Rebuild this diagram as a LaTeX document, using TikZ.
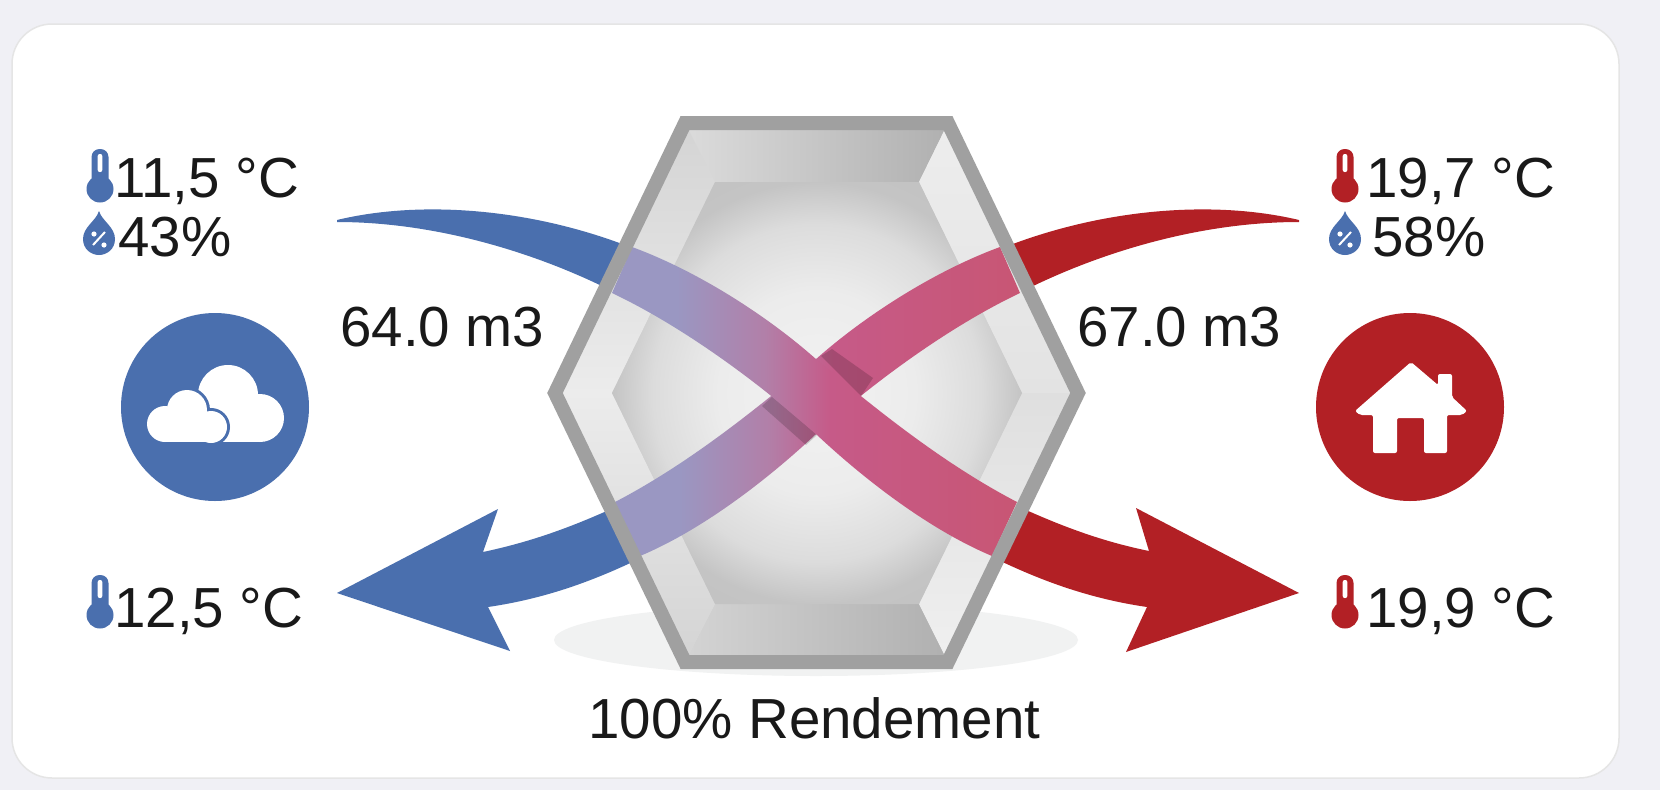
\documentclass[tikz,border=0pt]{standalone}
\usepackage{fontspec}
\setmainfont{Liberation Sans}
\usetikzlibrary{positioning}

\definecolor{coldblue}{HTML}{4A6FAE}
\definecolor{warmred}{HTML}{B22025}
\definecolor{pagegray}{HTML}{F0F0F5}
\definecolor{framegray}{HTML}{A0A0A0}
\definecolor{floorgray}{HTML}{F1F2F2}
\definecolor{bandlila}{HTML}{9A97C2}
\definecolor{bandmid}{HTML}{B27FA8}
\definecolor{bandpink}{HTML}{C65A88}
\definecolor{bandred}{HTML}{C85674}
\definecolor{coreA}{HTML}{F2F2F2}
\definecolor{coreB}{HTML}{ECECEC}
\definecolor{coreC}{HTML}{DCDCDC}
\definecolor{coreD}{HTML}{C4C4C4}
\definecolor{coreE}{HTML}{BABABA}

\pgfdeclarehorizontalshading{bandmix}{100bp}{color(0bp)=(bandlila); color(25bp)=(bandlila); color(33bp)=(bandlila); color(44bp)=(bandmid); color(52bp)=(bandpink); color(75bp)=(bandred); color(100bp)=(bandred)}
\pgfdeclareradialshading{coremix}{\pgfpoint{0bp}{0bp}}{color(0bp)=(coreA); color(12bp)=(coreB); color(20bp)=(coreC); color(25bp)=(coreD); color(50bp)=(coreE)}

\tikzset{
  valuetext/.style={anchor=base west, inner sep=0pt, text=black!90, font=\fontsize{56.5}{60}\selectfont},
  pics/thermo/.style={code={
    \fill[#1] (0,14) circle (13.5);
    \fill[#1, rounded corners=8] (-8.5,18) rectangle (8.5,-26);
    \fill[white, rounded corners=2] (-2.3,-3) rectangle (2.3,-21);
  }},
  pics/wetdrop/.style={code={
    \fill[coldblue] (0,-22) .. controls (3,-12) and (16,-6) .. (16,6) .. controls (16,16) and (8,22) .. (0,22) .. controls (-8,22) and (-16,16) .. (-16,6) .. controls (-16,-6) and (-3,-12) .. (0,-22) -- cycle;
    \draw[white, line width=2] (-6,12) -- (6,-1);
    \fill[white] (-5,1) circle (2.6);
    \fill[white] (5,12) circle (2.6);
  }}
}

\begin{document}
\begin{tikzpicture}[x=1pt,y=-1pt]
\useasboundingbox (0,0) rectangle (1660,790);
\fill[pagegray] (0,0) rectangle (1660,790);
\draw[white!90!black, fill=white, line width=1.5, rounded corners=40] (12,24) rectangle (1619,778);

% Corners of the exchanger
\coordinate (A) at (685,123);
\coordinate (B) at (948,123);
\coordinate (C) at (1078,393);
\coordinate (D) at (948,662);
\coordinate (E) at (685,662);
\coordinate (F) at (555,393);

\coordinate (G) at (715,182);
\coordinate (H) at (919,182);
\coordinate (I) at (1022,393);
\coordinate (J) at (919,604);
\coordinate (K) at (715,604);
\coordinate (L) at (612,393);

% Floor shadow
\fill[floorgray] (816,640) ellipse (262 and 36);

% Outer parts of the air streams
\fill[coldblue] (337,220) .. controls (420,200) and (530,208) .. (630,247) -- (610,290) .. controls (540,255) and (440,222) .. (337,222) -- cycle;
\fill[warmred] (1299,220) .. controls (1215,200) and (1105,208) .. (1005,247) -- (1025,290) .. controls (1095,255) and (1195,222) .. (1299,222) -- cycle;
\fill[coldblue] (337,593) -- (498,509) -- (483,552) .. controls (530,542) and (570,528) .. (620,505) -- (645,556) .. controls (600,578) and (550,598) .. (488,607) -- (510,651) -- cycle;
\fill[warmred] (1299,593) -- (1136,508) -- (1149,551) .. controls (1105,542) and (1065,528) .. (1015,505) -- (990,556) .. controls (1035,578) and (1085,598) .. (1147,607) -- (1126,652) -- cycle;

% Exchanger body
\fill[gray!30] (A) -- (B) -- (C) -- (D) -- (E) -- (F) -- cycle;
\shade[left color=gray!28, right color=gray!62] (A) -- (B) -- (H) -- (G) -- cycle;
\shade[left color=gray!34, right color=gray!62] (E) -- (D) -- (J) -- (K) -- cycle;
\shade[top color=gray!34, bottom color=gray!15] (A) -- (G) -- (L) -- (F) -- cycle;
\shade[top color=gray!15, bottom color=gray!34] (F) -- (L) -- (K) -- (E) -- cycle;
\shade[top color=gray!14, bottom color=gray!22] (B) -- (H) -- (I) -- (C) -- cycle;
\shade[top color=gray!25, bottom color=gray!12] (C) -- (I) -- (J) -- (D) -- cycle;
\shade[shading=coremix] (G) -- (H) -- (I) -- (J) -- (K) -- (L) -- cycle;

% Air streams inside
\shade[shading=bandmix] (1000,247) .. controls (932,272) and (862,318) .. (815,360) .. controls (762,404) and (692,462) .. (615,502) -- (640,556) .. controls (702,530) and (767,480) .. (815,435) .. controls (862,392) and (942,330) .. (1020,293) -- cycle;
\fill[black, opacity=.17] (821,356) -- (832,349) -- (873,378) -- (861,396) -- cycle;
\fill[black, opacity=.17] (772,397) -- (817,435) -- (806,445) -- (762,406) -- cycle;
\shade[shading=bandmix] (632,247) .. controls (700,272) and (770,318) .. (817,360) .. controls (870,404) and (940,462) .. (1017,502) -- (992,556) .. controls (930,530) and (865,480) .. (817,435) .. controls (770,392) and (690,330) .. (612,293) -- cycle;

% Frame
\draw[framegray, line width=14, miter limit=10] (A) -- (B) -- (C) -- (D) -- (E) -- (F) -- cycle;

% Thermometers and drops
\pic at (100,175) {thermo=coldblue};
\pic at (99,233) {wetdrop};
\pic at (100,601) {thermo=coldblue};
\pic at (1345,175) {thermo=warmred};
\pic at (1345,233) {wetdrop};
\pic at (1345,601) {thermo=warmred};

% Values
\node[valuetext] (t1) at (114,197) {11,5 °C};
\node[valuetext] (h1) at (118,256) {43\%};
\node[valuetext] (t2) at (114,627) {12,5 °C};
\node[valuetext] (t3) at (1366,197) {19,7 °C};
\node[valuetext] (h2) at (1372,256) {58\%};
\node[valuetext] (t4) at (1366,627) {19,9 °C};
\node[valuetext] (v1) at (340,346) {64.0 m3};
\node[valuetext] (v2) at (1077,346) {67.0 m3};
\node[valuetext] (r1) at (588,738) {100\% Rendement};

% Outside icon
\fill[coldblue] (215,407) circle (94);
\fill[white] (228,395) circle (30);
\fill[white] (260,418) circle (24);
\fill[white] (222,410) rectangle (260,442);
\begin{scope}[line width=6, coldblue]
\draw (187,410) circle (20);
\draw (211,427) circle (16);
\end{scope}
\fill[white] (165,424) circle (18);
\fill[white] (187,410) circle (20);
\fill[white] (211,427) circle (16);
\fill[white] (165,424) rectangle (211,442);

% Inside icon
\fill[warmred] (1410,407) circle (94);
\fill[white, rounded corners=2] (1411,362) -- (1438,385) -- (1438,374) -- (1452,374) -- (1452,397) -- (1467,411) -- (1462,415) -- (1447,415) -- (1447,453) -- (1424,453) -- (1424,418) -- (1397,418) -- (1397,453) -- (1373,453) -- (1373,415) -- (1360,415) -- (1355,411) -- cycle;
\end{tikzpicture}
\end{document}
